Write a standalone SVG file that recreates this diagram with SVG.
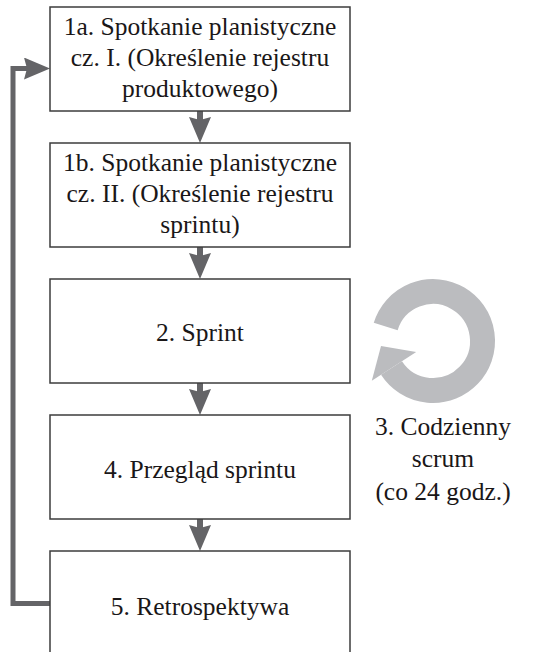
<svg xmlns="http://www.w3.org/2000/svg" width="548" height="652" viewBox="0 0 548 652">
<style>
.box{fill:#fff;stroke:#3c3c3c;stroke-width:1.5}
.t{font-family:'Liberation Serif','Times New Roman',serif;font-size:25.5px;fill:#1a1718;text-anchor:middle}
.c{fill:none;stroke:#646467;stroke-width:6}
.fb{fill:none;stroke:#646467;stroke-width:5}
</style>
<defs>
<marker id="ah" markerUnits="userSpaceOnUse" markerWidth="26" markerHeight="22" viewBox="0 0 26 22" refX="6" refY="11" orient="auto">
<path d="M0,0 L26,11 L0,22 L3,11 Z" fill="#646467"/>
</marker>
</defs>
<rect width="548" height="652" fill="#fff"/>
<g id="connectors">
<path class="c" d="M200,111 V123" marker-end="url(#ah)"/>
<path class="c" d="M200,247 V259" marker-end="url(#ah)"/>
<path class="c" d="M200,383 V395" marker-end="url(#ah)"/>
<path class="c" d="M200,519 V531" marker-end="url(#ah)"/>
<path class="fb" d="M50,603.5 H13 V68.5 H30" marker-end="url(#ah)"/>
</g>
<g id="n1a">
<rect class="box" x="50" y="7" width="300" height="104"/>
<text class="t" x="200" y="35">1a. Spotkanie planistyczne</text>
<text class="t" x="200" y="66">cz. I. (Określenie rejestru</text>
<text class="t" x="200" y="97">produktowego)</text>
</g>
<g id="n1b">
<rect class="box" x="50" y="143" width="300" height="104"/>
<text class="t" x="200" y="171">1b. Spotkanie planistyczne</text>
<text class="t" x="200" y="202">cz. II. (Określenie rejestru</text>
<text class="t" x="200" y="233">sprintu)</text>
</g>
<g id="n2">
<rect class="box" x="50" y="279" width="300" height="104"/>
<text class="t" x="200" y="341">2. Sprint</text>
</g>
<g id="n4">
<rect class="box" x="50" y="415" width="300" height="104"/>
<text class="t" x="200" y="478">4. Przegląd sprintu</text>
</g>
<g id="n5">
<rect class="box" x="50" y="551" width="300" height="110"/>
<text class="t" x="200" y="615">5. Retrospektywa</text>
</g>
<g id="n3">
<path d="M385.7,326.5 A49.5,49.5 0 1 1 391.5,368" fill="none" stroke="#bbbcbf" stroke-width="25"/>
<polygon points="416.2,351.9 371.8,380.8 381,346" fill="#bbbcbf"/>
<text class="t" x="443" y="435">3. Codzienny</text>
<text class="t" x="443" y="467">scrum</text>
<text class="t" x="443" y="500">(co 24 godz.)</text>
</g>
</svg>
